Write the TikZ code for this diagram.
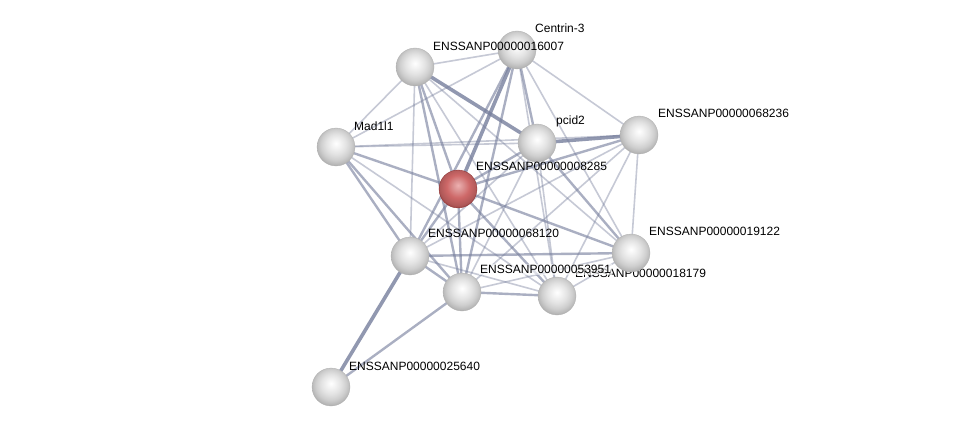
\documentclass[tikz,border=0pt]{standalone}
\usepackage{fontspec}
\setmainfont{Liberation Sans}
\definecolor{edgecol}{RGB}{118,126,156}
\definecolor{qtop}{RGB}{238,176,176}
\definecolor{qmid}{RGB}{206,104,104}
\definecolor{qrim}{RGB}{140,48,48}
\pgfdeclareradialshading{protball}{\pgfpoint{0bp}{5bp}}{color(0bp)=(white); color(5bp)=(white!92!gray); color(13bp)=(gray!22); color(20bp)=(gray!38); color(25bp)=(gray!55); color(30bp)=(gray!78); color(50bp)=(gray!78)}
\pgfdeclareradialshading{qball}{\pgfpoint{0bp}{5bp}}{color(0bp)=(qtop); color(6bp)=(qmid!70!white); color(15bp)=(qmid); color(24bp)=(qmid!85!black); color(30bp)=(qrim); color(50bp)=(qrim)}
\tikzset{
  prot/.style={circle,minimum size=38pt,inner sep=0pt,shading=protball,draw=gray!60,line width=0.3pt},
  qprot/.style={prot,shading=qball,draw=qrim},
  lbl/.style={anchor=south west,inner sep=1pt,font=\fontsize{12}{14}\selectfont},
  lnk/.style={edgecol,line width=1.6pt,opacity=0.42},
  lnkm/.style={edgecol,line width=2.4pt,opacity=0.62},
  lnkt/.style={edgecol,line width=3.6pt,opacity=0.8}
}

\begin{document}
\begin{tikzpicture}[x=1pt,y=-1pt]
   \useasboundingbox (0,0) rectangle (975,433);
   % protein positions
   \coordinate (p16007) at (415,67);
   \coordinate (cen3)   at (517,50);
   \coordinate (mad)    at (336,147);
   \coordinate (pcid)   at (537,143);
   \coordinate (p68236) at (639,135);
   \coordinate (p8285)  at (458,189);
   \coordinate (p68120) at (410,256);
   \coordinate (p19122) at (631,253);
   \coordinate (p53951) at (462,292);
   \coordinate (p18179) at (557,296);
   \coordinate (p25640) at (331,387);
   % links
   \foreach \a/\b in {p16007/cen3,p16007/mad,p16007/p68120,p16007/p18179,p16007/p19122,
                      cen3/mad,cen3/p68236,cen3/p18179,cen3/p19122,
                      mad/pcid,mad/p68236,mad/p18179,
                      pcid/p68120,pcid/p53951,pcid/p18179,
                      p68236/p68120,p68236/p53951,p68236/p18179,p68236/p19122,
                      p68120/p18179,p53951/p19122,p18179/p19122}
     \draw[lnk] (\a) -- (\b);
   \foreach \a/\b in {p16007/p8285,p16007/p53951,cen3/pcid,cen3/p68120,cen3/p53951,
                      mad/p8285,mad/p68120,mad/p53951,pcid/p8285,pcid/p19122,
                      p68236/p8285,p8285/p68120,p8285/p53951,p8285/p18179,p8285/p19122,
                      p68120/p19122,p68120/p53951,p53951/p18179,p53951/p25640}
     \draw[lnkm] (\a) -- (\b);
   \foreach \a/\b in {p16007/pcid,cen3/p8285,pcid/p68236,p68120/p25640}
     \draw[lnkt] (\a) -- (\b);
   % label partly under a protein
   \node[lbl] at ([shift={(17,-17)}]p18179) {ENSSANP00000018179};
   % proteins
   \foreach \n in {p16007,cen3,mad,pcid,p68236,p68120,p19122,p53951,p18179,p25640}
     \node[prot] (\n-b) at (\n) {};
   \node[qprot] (p8285-b) at (p8285) {};
   % labels
   \node[lbl] at ([shift={(17,-15)}]p16007) {ENSSANP00000016007};
   \node[lbl] at ([shift={(17,-16)}]cen3) {Centrin-3};
   \node[lbl] at ([shift={(17,-15)}]mad) {Mad1l1};
   \node[lbl] at ([shift={(18,-15)}]pcid) {pcid2};
   \node[lbl] at ([shift={(18,-16)}]p68236) {ENSSANP00000068236};
   \node[lbl] at ([shift={(17,-17)}]p8285) {ENSSANP00000008285};
   \node[lbl] at ([shift={(17,-17)}]p68120) {ENSSANP00000068120};
   \node[lbl] at ([shift={(17,-16)}]p19122) {ENSSANP00000019122};
   \node[lbl,fill=white,fill opacity=0.6,text opacity=1] at ([shift={(17,-17)}]p53951) {ENSSANP00000053951};
   \node[lbl] at ([shift={(17,-15)}]p25640) {ENSSANP00000025640};
\end{tikzpicture}
\end{document}
